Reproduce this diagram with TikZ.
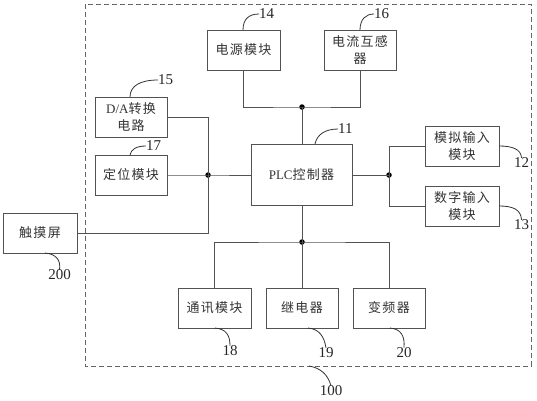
\documentclass[tikz,border=0pt]{standalone}
\usepackage{fontspec}
\setmainfont{Liberation Serif}
\newfontfamily\cjk[LetterSpace=10]{Noto Sans CJK SC}
\begin{document}
\begin{tikzpicture}[x=1pt,y=-1pt,
  ln/.style={draw=black!68, line width=0.9pt},
  box/.style={ln, rectangle, inner sep=0pt, align=center, text=black!80,
    font=\fontsize{13}{17}\selectfont\cjk},
  num/.style={inner sep=0pt, text=black!85, font=\fontsize{15}{15}\selectfont},
  dot/.style={circle, fill=black, inner sep=0pt, minimum size=5.5pt},
  lead/.style={draw=black!80, line width=0.8pt}]
\useasboundingbox (0,0) rectangle (537,400);
% outer dashed frame
\draw[draw=black!60, line width=0.9pt, dash pattern=on 5pt off 3pt] (85,4) rectangle (531,366);
% boxes
\node[box, minimum width=73pt, minimum height=40pt] (b14) at (243.5,50) {电源模块};
\node[box, minimum width=72pt, minimum height=40pt] (b16) at (360,50) {电流互感\\器};
\node[box, minimum width=101pt, minimum height=61pt] (plc) at (301.5,174.5) {{\rmfamily PLC}控制器};
\node[box, minimum width=72pt, minimum height=40pt] (b15) at (131,117) {{\rmfamily D/A}转换\\电路};
\node[box, minimum width=72pt, minimum height=40pt] (b17) at (131,175) {定位模块};
\node[box, minimum width=74pt, minimum height=40pt] (b200) at (40,233) {触摸屏};
\node[box, minimum width=74pt, minimum height=40pt] (b12) at (462,146) {模拟输入\\模块};
\node[box, minimum width=74pt, minimum height=40pt] (b13) at (462,206) {数字输入\\模块};
\node[box, minimum width=73pt, minimum height=40pt] (b18) at (214.5,308) {通讯模块};
\node[box, minimum width=72pt, minimum height=40pt] (b19) at (302,308) {继电器};
\node[box, minimum width=72pt, minimum height=40pt] (b20) at (389,308) {变频器};
% junctions
\node[dot] (j1) at (302,107) {};
\node[dot] (j2) at (302,242) {};
\node[dot] (j3) at (389,175) {};
\node[dot] (j4) at (208,175) {};
% connectors
\draw[ln] (b14.south) |- (j1.center) -| (b16.south);
\draw[ln] (j1.center) -- (j1 |- plc.north);
\draw[ln] (j2 |- plc.south) -- (j2.center);
\draw[ln] (b18.north) |- (j2.center) -| (b20.north);
\draw[ln] (j2.center) -- (b19.north);
\draw[ln] (plc.east |- j3) -- (j3.center);
\draw[ln] (b12.west) -| (j3.center);
\draw[ln] (b13.west) -| (j3.center);
\draw[ln] (b17.east) -- (j4.center) -- (plc.west |- j4);
\draw[ln] (b15.east) -| (j4.center);
\draw[ln] (b200.east) -| (j4.center);
% labels and leaders
\node[num, anchor=west] (l14) at (259,14) {14};
\draw[lead] (243,30) .. controls (243,19) and (249,14) .. (l14.west);
\node[num, anchor=west] (l16) at (374,14) {16};
\draw[lead] (360,30) .. controls (360,19) and (366,14) .. (l16.west);
\node[num, anchor=west] (l15) at (158,80) {15};
\draw[lead] (130,97) .. controls (130,86) and (140,80) .. (l15.west);
\node[num, anchor=west] (l17) at (146,146) {17};
\draw[lead] (130,155) .. controls (131,149) and (137,146) .. (l17.west);
\node[num, anchor=west] (l11) at (338,129) {11};
\draw[lead] (315,144) .. controls (317,134) and (326,129) .. (l11.west);
\node[num] (l12) at (521.5,163) {12};
\draw[lead] (499,146) .. controls (512,146) and (521,149) .. (l12.north);
\node[num] (l13) at (521.5,225) {13};
\draw[lead] (499,206) .. controls (512,206) and (521,209) .. (l13.north);
\node[num] (l200) at (59.5,275) {200};
\draw[lead] (45,253) .. controls (56,254) and (61,260) .. (l200.north);
\node[num] (l18) at (230,351) {18};
\draw[lead] (215,328) .. controls (226,329) and (230,335) .. (l18.north);
\node[num] (l19) at (326,353) {19};
\draw[lead] (308,328) .. controls (319,329) and (324,336) .. (l19.north);
\node[num] (l20) at (404,353) {20};
\draw[lead] (390,328) .. controls (401,329) and (405,336) .. (l20.north);
\node[num] (l100) at (331,391) {100};
\draw[lead] (309,366) .. controls (321,368) and (328,375) .. (l100.north);
\end{tikzpicture}
\end{document}
